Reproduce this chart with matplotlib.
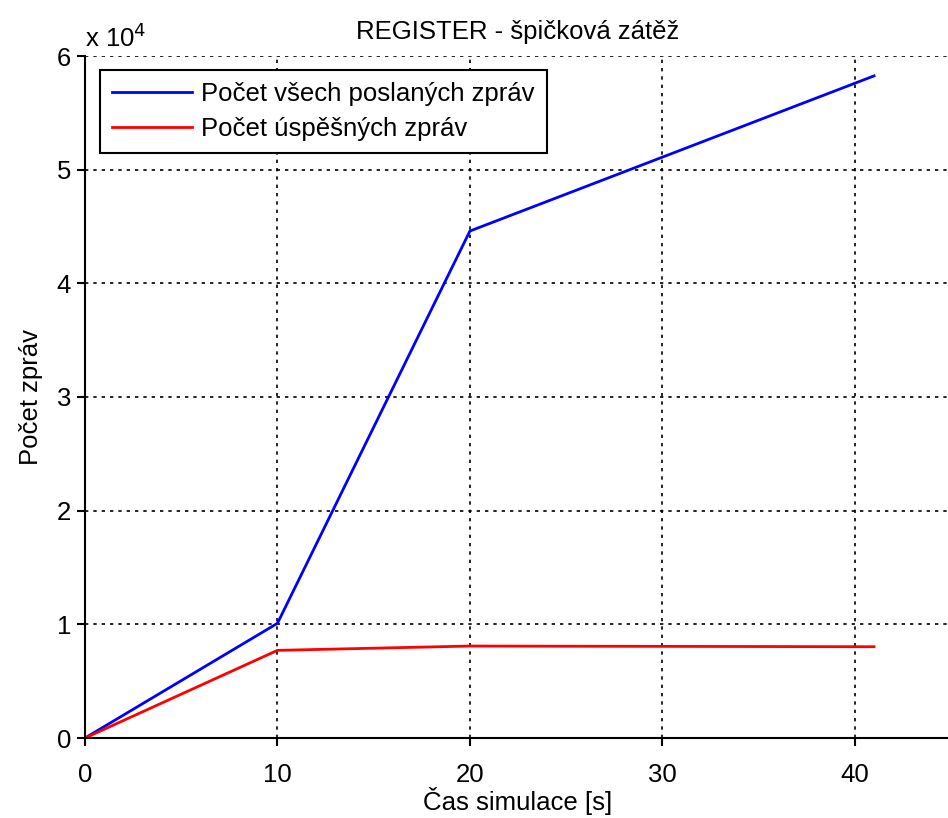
import matplotlib
matplotlib.use('Agg')
import matplotlib.pyplot as plt
from matplotlib.ticker import FuncFormatter

plt.rcParams['font.family'] = ['Liberation Sans', 'DejaVu Sans']

# ── data ──
cas = [0, 10, 20, 41]
vsechny = [0, 10090, 44600, 58250]
uspesne = [0, 7710, 8090, 8030]

TITLE = 'REGISTER - špičková zátěž'
XLABEL = 'Čas simulace [s]'
YLABEL = 'Počet zpráv'
LEG = ['Počet všech poslaných zpráv', 'Počet úspěšných zpráv']

FS = 18.5

fig = plt.figure(figsize=(9.48, 8.18), dpi=100)
ax = fig.add_axes([85 / 948, 80 / 818, 866 / 948, 682 / 818])

ax.plot(cas, vsechny, color='#0000ff', lw=2, label=LEG[0])
ax.plot(cas, uspesne, color='#ff0000', lw=2, label=LEG[1])

ax.set_xlim(0, 45)
ax.set_ylim(0, 60000)
ax.set_xticks([0, 10, 20, 30, 40])
ax.set_yticks([0, 10000, 20000, 30000, 40000, 50000, 60000])
ax.yaxis.set_major_formatter(FuncFormatter(lambda v, p: f'{v / 1e4:g}'))
ax.grid(True, color='black', linestyle=(0, (2, 3)), linewidth=1.2)

for s in ('top', 'right'):
    ax.spines[s].set_visible(False)
for s in ('left', 'bottom'):
    ax.spines[s].set_linewidth(1.5)
ax.tick_params(direction='out', length=6, width=1.5, labelsize=FS)
ax.tick_params(axis='x', pad=12)
ax.tick_params(axis='y', pad=4)

ax.text(0, 1.006, 'x 10$^4$', transform=ax.transAxes, fontsize=FS,
        ha='left', va='bottom')

ax.set_title(TITLE, fontsize=FS, pad=12)
ax.set_xlabel(XLABEL, fontsize=FS, labelpad=0)
ax.set_ylabel(YLABEL, fontsize=FS, labelpad=10)

leg = ax.legend(loc='upper left', fontsize=FS, frameon=True, fancybox=False,
                edgecolor='black', framealpha=1, borderpad=0.45,
                handlelength=3.15, handletextpad=0.35, borderaxespad=0,
                labelspacing=0.45, bbox_to_anchor=(0.0173, 0.9795))
leg.get_frame().set_linewidth(1.5)

fig.savefig('out.png', dpi=100)
